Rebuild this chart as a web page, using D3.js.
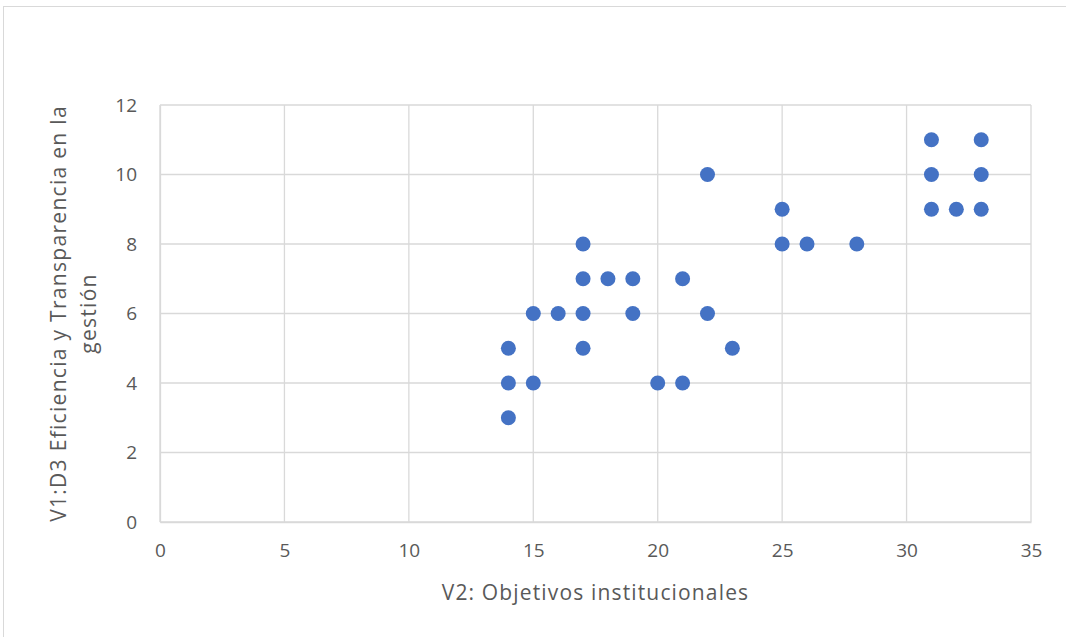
<!DOCTYPE html>
<html>
<head>
<meta charset="utf-8">
<script src="https://cdn.jsdelivr.net/npm/d3@7"></script>
<style>
  body { margin: 0; background: #fff; }
  text { font-family: "Open Sans", "Liberation Sans", sans-serif; fill: #595959; }
</style>
</head>
<body>
<div id="chart"></div>
<script>
// V2 (x) vs V1:D3 (y) values
const xValues = [14, 14, 14, 15, 15, 16, 17, 17, 17, 17, 18, 19, 19, 20, 21, 21, 22, 22, 23, 25, 25, 26, 28, 31, 31, 31, 32, 33, 33, 33];
const yValues = [5, 4, 3, 6, 4, 6, 8, 7, 6, 5, 7, 7, 6, 4, 7, 4, 10, 6, 5, 9, 8, 8, 8, 11, 10, 9, 9, 11, 10, 9];
const xTicks = [0, 5, 10, 15, 20, 25, 30, 35];
const yTicks = [0, 2, 4, 6, 8, 10, 12];
const xTitle = "V2: Objetivos institucionales";
const yTitleLines = ["V1:D3 Eficiencia y Transparencia en la", "gestión"];

const width = 1066, height = 637;
const margin = { left: 160, right: 35, top: 105, bottom: 115 };

const svg = d3.select("#chart").append("svg")
    .attr("width", width)
    .attr("height", height);

// chart area border
svg.append("rect")
    .attr("x", 3.5).attr("y", 6.5)
    .attr("width", 1070).attr("height", 640)
    .attr("fill", "none")
    .attr("stroke", "#d9d9d9");

const x = d3.scaleLinear().domain([0, 35]).range([margin.left, width - margin.right]);
const y = d3.scaleLinear().domain([0, 12]).range([height - margin.bottom, margin.top]);

// gridlines
svg.append("g").selectAll("line")
    .data(xTicks)
    .enter().append("line")
    .attr("x1", d => x(d)).attr("x2", d => x(d))
    .attr("y1", y(0)).attr("y2", y(12))
    .attr("stroke", "#d9d9d9").attr("stroke-width", 1.3);

svg.append("g").selectAll("line")
    .data(yTicks)
    .enter().append("line")
    .attr("x1", x(0)).attr("x2", x(35))
    .attr("y1", d => y(d)).attr("y2", d => y(d))
    .attr("stroke", "#d9d9d9").attr("stroke-width", 1.3);

// axes
const xAxis = svg.append("g")
    .attr("transform", `translate(0,${y(0)})`)
    .call(d3.axisBottom(x).tickValues(xTicks).tickSize(0).tickPadding(22));
const yAxis = svg.append("g")
    .attr("transform", `translate(${x(0)},0)`)
    .call(d3.axisLeft(y).tickValues(yTicks).tickSize(0).tickPadding(23));

[xAxis, yAxis].forEach(g => {
    g.attr("font-size", null).attr("font-family", null);
    g.select(".domain").attr("stroke", "#d9d9d9").attr("stroke-width", 1.3);
    g.selectAll("text")
        .style("font-size", "19px")
        .attr("fill", "#595959");
});

// points
svg.append("g").selectAll("circle")
    .data(xValues.map((v, i) => ({ x: v, y: yValues[i] })))
    .enter().append("circle")
    .attr("cx", d => x(d.x))
    .attr("cy", d => y(d.y))
    .attr("r", 7.5)
    .attr("fill", "#4472C4");

// axis titles
svg.append("text")
    .attr("x", (x(0) + x(35)) / 2)
    .attr("y", 600)
    .attr("text-anchor", "middle")
    .style("font-size", "21px")
    .style("letter-spacing", "1.15px")
    .text(xTitle);

const yMid = (y(0) + y(12)) / 2;
yTitleLines.forEach((line, i) => {
    svg.append("text")
        .attr("transform", `translate(${66 + i * 30},${yMid}) rotate(-90)`)
        .attr("text-anchor", "middle")
        .style("font-size", "21px")
        .style("letter-spacing", "1.3px")
        .text(line);
});
</script>
</body>
</html>
